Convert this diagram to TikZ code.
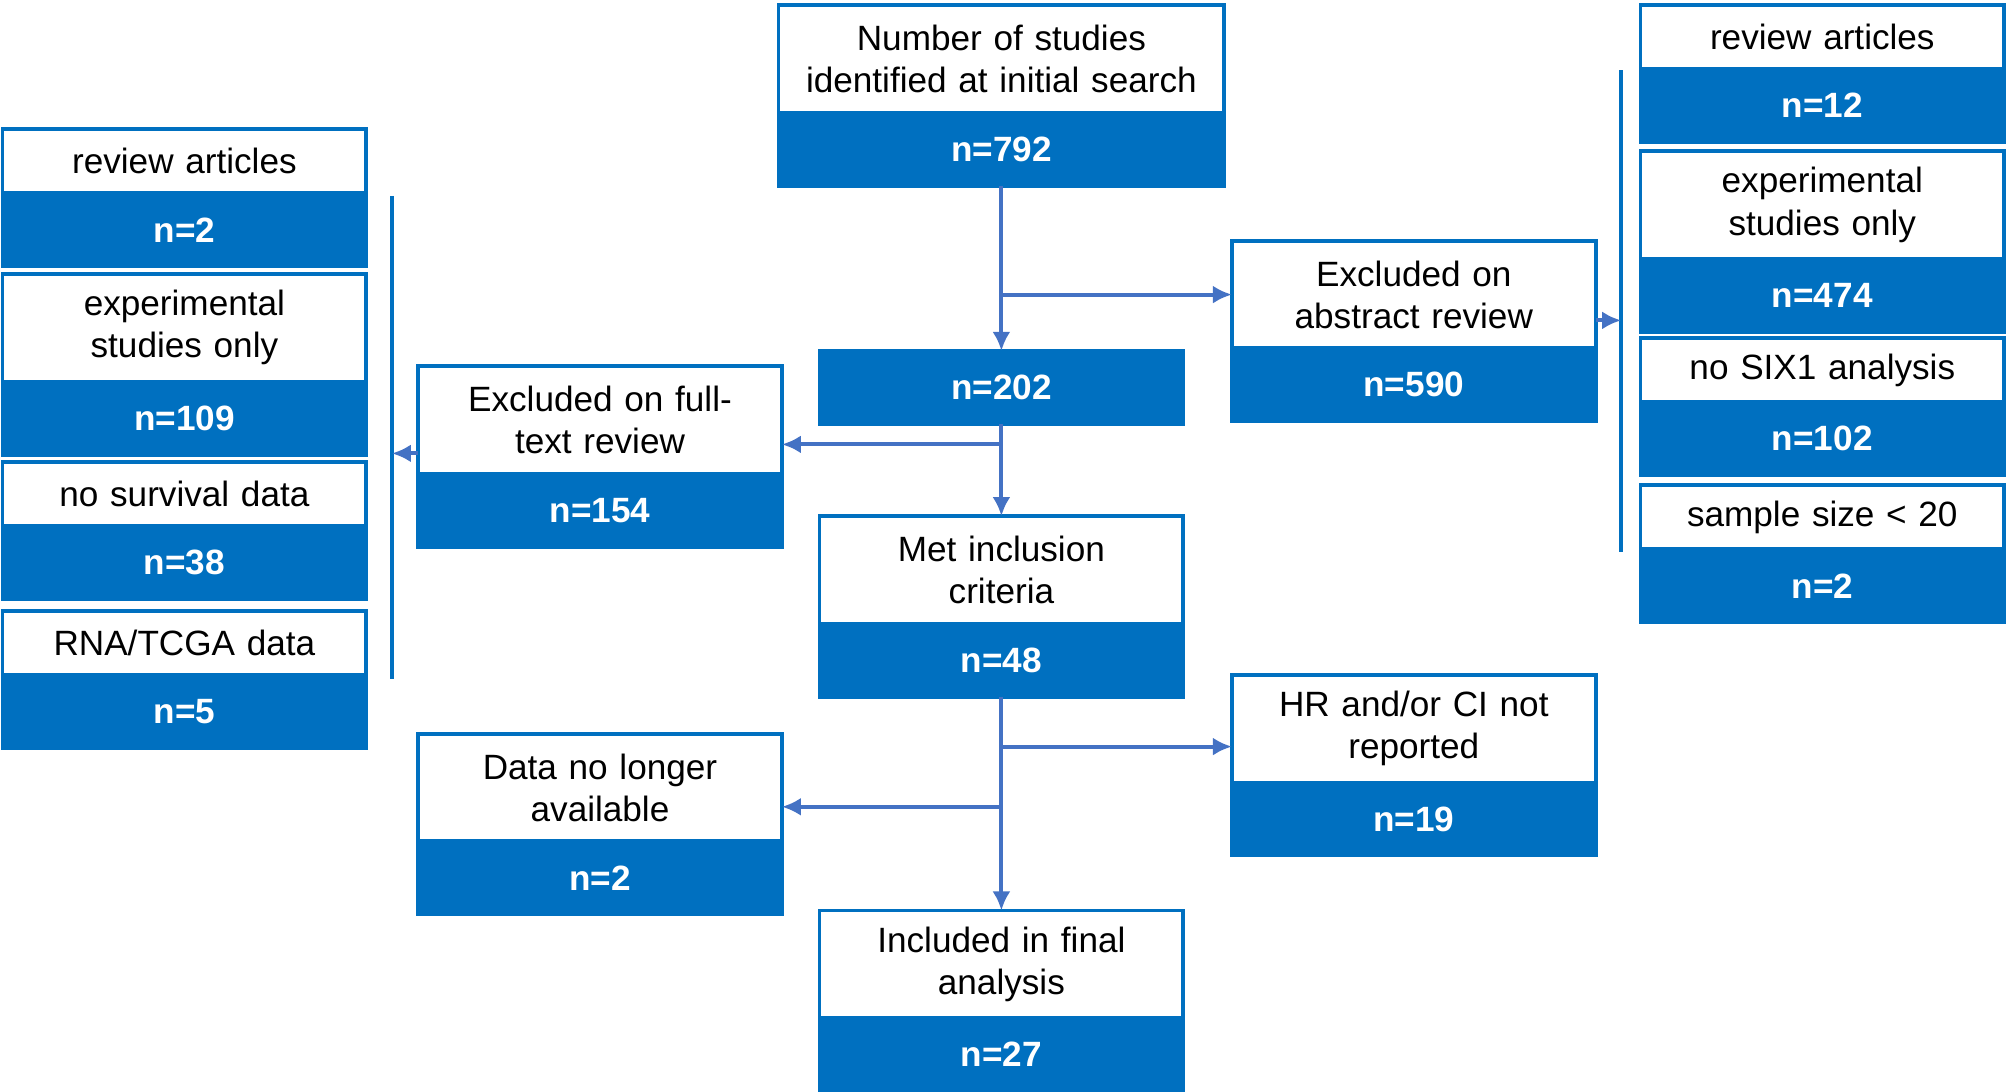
\documentclass[tikz,border=0pt]{standalone}
\usepackage{fontspec}
\setmainfont{Liberation Sans}
\usepackage{xcolor}
\usepackage{tikz}
\usetikzlibrary{calc}
\usetikzlibrary{positioning}
\usetikzlibrary{arrows.meta}

\definecolor{boxblue}{RGB}{0,112,192}
\definecolor{arrowblue}{RGB}{68,114,196}

\begin{document}
\begin{tikzpicture}[
		txtbox/.style={draw=boxblue, line width=1.1pt, fill=white, minimum width=3.637cm, text width=3.5cm, align=center, inner sep=0pt, outer sep=0pt, font=\fontsize{10}{12}\selectfont},
		numbox/.style={draw=boxblue, fill=boxblue, line width=1.1pt, minimum width=3.637cm, minimum height=0.73cm, text=white, align=center, inner sep=0pt, outer sep=0pt, font=\bfseries\fontsize{10}{12}\selectfont},
		two/.style={minimum height=1.076cm},
		one/.style={minimum height=0.64cm},
		wide/.style={minimum width=4.457cm, text width=4.3cm},
		arrow/.style={-{Latex[length=1.9mm,width=1.8mm]}, draw=arrowblue, line width=1.1pt},
		bar/.style={draw=boxblue, line width=1.1pt}
		]
		\useasboundingbox (0,0) rectangle (20.08,-10.92);
		
		% Main column
		\node[txtbox, two, wide, anchor=north] (search) at (10.014,-0.051) {Number of studies\\identified at initial search};
		\node[numbox, wide, below=0pt of search] (search-n) {n=792};
		\node[numbox, anchor=north] (screened) at (10.014,-3.509) {n=202};
		\node[txtbox, two, anchor=north] (met) at (10.014,-5.161) {Met inclusion\\criteria};
		\node[numbox, below=0pt of met] (met-n) {n=48};
		\node[txtbox, two, anchor=north] (final) at (10.014,-9.105) {Included in final\\analysis};
		\node[numbox, below=0pt of final] (final-n) {n=27};
		
		% Exclusions, right side
		\node[txtbox, two, anchor=north] (abstract) at (14.138,-2.408) {Excluded on\\abstract review};
		\node[numbox, below=0pt of abstract] (abstract-n) {n=590};
		\node[txtbox, two, anchor=north] (hrci) at (14.138,-6.749) {HR and/or CI not\\reported};
		\node[numbox, below=0pt of hrci] (hrci-n) {n=19};
		
		% Exclusions, left side
		\node[txtbox, two, anchor=north] (fulltext) at (6.000,-3.663) {Excluded on full-\\text review};
		\node[numbox, below=0pt of fulltext] (fulltext-n) {n=154};
		\node[txtbox, two, anchor=north] (nodata) at (6.000,-7.338) {Data no longer\\available};
		\node[numbox, below=0pt of nodata] (nodata-n) {n=2};
		
		% Reasons after abstract review
		\node[txtbox, one, anchor=north] (rreview) at (18.223,-0.051) {review articles};
		\node[numbox, below=0pt of rreview] (rreview-n) {n=12};
		\node[txtbox, two, anchor=north] (rexper) at (18.223,-1.511) {experimental\\studies only};
		\node[numbox, below=0pt of rexper] (rexper-n) {n=474};
		\node[txtbox, one, anchor=north] (rsix) at (18.223,-3.381) {no SIX1 analysis};
		\node[numbox, below=0pt of rsix] (rsix-n) {n=102};
		\node[txtbox, one, anchor=north] (rsize) at (18.223,-4.853) {sample size < 20};
		\node[numbox, below=0pt of rsize] (rsize-n) {n=2};
		
		% Reasons after full-text review
		\node[txtbox, one, anchor=north] (lreview) at (1.844,-1.293) {review articles};
		\node[numbox, below=0pt of lreview] (lreview-n) {n=2};
		\node[txtbox, two, anchor=north] (lexper) at (1.844,-2.740) {experimental\\studies only};
		\node[numbox, below=0pt of lexper] (lexper-n) {n=109};
		\node[txtbox, one, anchor=north] (lsurv) at (1.844,-4.623) {no survival data};
		\node[numbox, below=0pt of lsurv] (lsurv-n) {n=38};
		\node[txtbox, one, anchor=north] (ltcga) at (1.844,-6.108) {RNA/TCGA data};
		\node[numbox, below=0pt of ltcga] (ltcga-n) {n=5};
		
		% Brackets
		\coordinate (rbar-top) at (16.212,-0.704);
		\coordinate (rbar-bot) at (16.212,-5.519);
		\coordinate (lbar-top) at (3.919,-1.959);
		\coordinate (lbar-bot) at (3.919,-6.787);
		\draw[bar] (rbar-top) -- (rbar-bot);
		\draw[bar] (lbar-top) -- (lbar-bot);
		
		% Points where the side arrows leave or meet the boxes
		\coordinate (fulltext-in) at ([yshift=0.295cm]fulltext.south east);
		\coordinate (hrci-in) at ([yshift=0.359cm]hrci.south west);
		\coordinate (nodata-in) at ([yshift=0.346cm]nodata.south east);
		\coordinate (abstract-out) at ([yshift=0.28cm]abstract.south east);
		\coordinate (fulltext-out) at ([yshift=0.205cm]fulltext.south west);
		
		% Main flow
		\draw[arrow] (search-n) -- (screened);
		\draw[arrow] (screened) -- (met);
		\draw[arrow] (met-n) -- (final);
		
		% Branches
		\draw[arrow] (abstract.west -| search-n.south) -- (abstract.west);
		\draw[arrow] (fulltext-in -| screened.south) -- (fulltext-in);
		\draw[arrow] (hrci-in -| met-n.south) -- (hrci-in);
		\draw[arrow] (nodata-in -| met-n.south) -- (nodata-in);
		\draw[arrow] (abstract-out) -- (abstract-out -| rbar-top);
		\draw[arrow] (fulltext-out) -- (fulltext-out -| lbar-top);
		
	\end{tikzpicture}
\end{document}
